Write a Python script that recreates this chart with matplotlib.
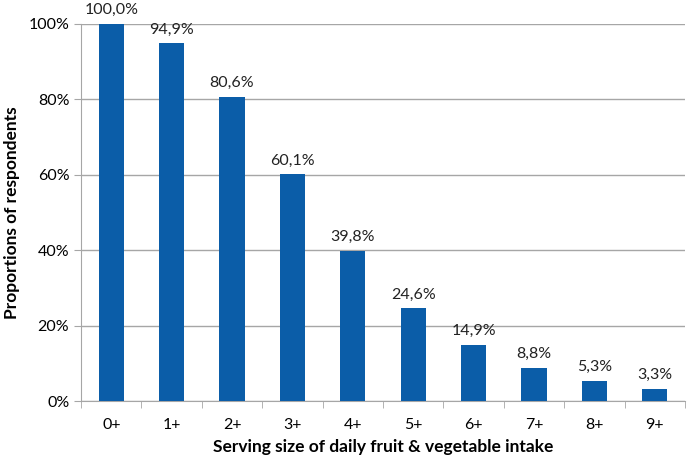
import matplotlib.pyplot as plt
import numpy as np

plt.rcParams['font.family'] = ['Lato', 'DejaVu Sans']

categories = ["0+", "1+", "2+", "3+", "4+", "5+", "6+", "7+", "8+", "9+"]
values = [100.0, 94.9, 80.6, 60.1, 39.8, 24.6, 14.9, 8.8, 5.3, 3.3]
value_labels = ["100,0%", "94,9%", "80,6%", "60,1%", "39,8%", "24,6%",
                "14,9%", "8,8%", "5,3%", "3,3%"]

fig = plt.figure(figsize=(6.87, 4.61), dpi=100)
ax = fig.add_axes([0.118, 0.130, 0.879, 0.818])

x = np.arange(len(categories))
bars = ax.bar(x, values, width=0.42, color="#0B5DA8", zorder=3)

for xi, v, lab in zip(x, values, value_labels):
    ax.text(xi, v + 1.8, lab, ha="center", va="bottom", fontsize=11.5, color="#222222")

ax.set_xlim(-0.5, len(categories) - 0.5)
ax.set_ylim(0, 100)
ax.set_yticks(np.arange(0, 101, 20))
ax.set_yticklabels([f"{t}%" for t in range(0, 101, 20)], fontsize=11.5)
ax.yaxis.grid(True, color="#A6A6A6", linewidth=1, zorder=0)

ax.set_xticks(x)
ax.set_xticklabels(categories, fontsize=11.5)
ax.set_xticks(np.arange(-0.5, len(categories), 1), minor=True)
ax.tick_params(axis="x", which="major", length=0, pad=12)
ax.tick_params(axis="x", which="minor", length=5, color="#A6A6A6")
ax.tick_params(axis="y", length=5, color="#A6A6A6")

for s in ["top", "right"]:
    ax.spines[s].set_visible(False)
for s in ["left", "bottom"]:
    ax.spines[s].set_color("#A6A6A6")

ax.set_xlabel("Serving size of daily fruit & vegetable intake", fontsize=12.5,
              fontweight="bold", labelpad=5)
ax.set_ylabel("Proportions of respondents", fontsize=12.5, fontweight="bold", labelpad=6)

fig.savefig("out.png", dpi=100)
